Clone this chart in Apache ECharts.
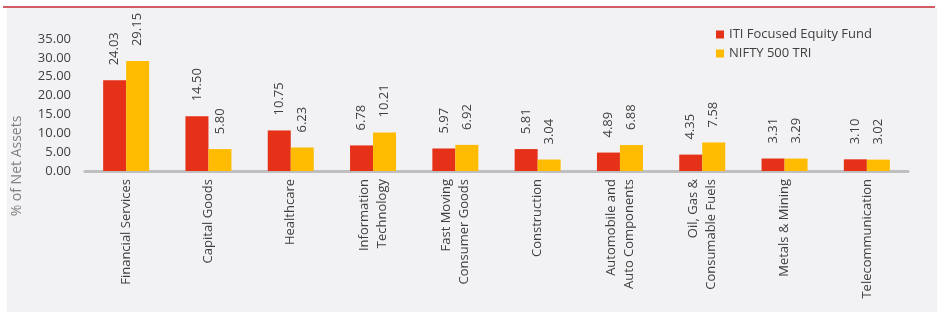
<!DOCTYPE html>
<html>
<head>
<meta charset="utf-8">
<script src="https://cdn.jsdelivr.net/npm/echarts@6/dist/echarts.min.js"></script>
<style>html,body{margin:0;padding:0;background:#fff;}#c{width:947px;height:322px;}</style>
</head>
<body>
<div id="c"></div>
<script>
var categories = ["Financial Services", "Capital Goods", "Healthcare", "Information\nTechnology", "Fast Moving\nConsumer Goods", "Construction", "Automobile and\nAuto Components", "Oil, Gas &\nConsumable Fuels", "Metals & Mining", "Telecommunication"];
var fundValues = [24.03, 14.50, 10.75, 6.78, 5.97, 5.81, 4.89, 4.35, 3.31, 3.10];
var indexValues = [29.15, 5.80, 6.23, 10.21, 6.92, 3.04, 6.88, 7.58, 3.29, 3.02];
var seriesNames = ["ITI Focused Equity Fund", "NIFTY 500 TRI"];
var yAxisTitle = "% of Net Assets";

var FONT = "Open Sans";
var chart = echarts.init(document.getElementById('c'), null, {renderer: 'canvas'});
var labelCfg = {
  show: true, position: 'top', rotate: 90, align: 'left', verticalAlign: 'middle',
  distance: 15, fontSize: 13, fontFamily: FONT, color: '#404040',
  formatter: function (p) { return p.value.toFixed(2); }
};
chart.setOption({
  animation: false,
  textStyle: {fontFamily: FONT},
  graphic: [
    {type: 'rect', z: -10, shape: {x: 7, y: 8, width: 930, height: 304}, style: {fill: '#F2F2F4'}},
    {type: 'line', z: -5, shape: {x1: 3, y1: 7, x2: 935, y2: 7}, style: {stroke: '#C0272D', lineWidth: 1.5}},
    {type: 'text', x: 17, y: 166, rotation: Math.PI / 2,
     style: {text: yAxisTitle, fill: '#7F7F7F', font: '14px "Open Sans"', textAlign: 'center', textVerticalAlign: 'middle'}}
  ],
  legend: {
    orient: 'vertical', left: 716, top: 28, itemWidth: 8, itemHeight: 8, itemGap: 6, padding: 0,
    icon: 'rect', data: seriesNames,
    textStyle: {fontSize: 13, fontFamily: FONT, color: '#404040'}
  },
  grid: {left: 85, right: 39, top: 39, bottom: 151, containLabel: false},
  xAxis: {
    type: 'category', data: categories,
    axisLine: {lineStyle: {color: '#BFBFBF', width: 3}},
    axisTick: {show: false},
    axisLabel: {interval: 0, rotate: 90, margin: 8, fontSize: 13, fontFamily: FONT, color: '#404040', lineHeight: 18}
  },
  yAxis: {
    type: 'value', min: 0, max: 35, interval: 5,
    axisLine: {show: false}, axisTick: {show: false}, splitLine: {show: false},
    axisLabel: {margin: 14, fontSize: 13, fontFamily: FONT, color: '#404040',
      formatter: function (v) { return v.toFixed(2); }}
  },
  series: [
    {name: seriesNames[0], type: 'bar', data: fundValues, barWidth: 23, barGap: '0%',
     itemStyle: {color: '#E53118'}, label: labelCfg},
    {name: seriesNames[1], type: 'bar', data: indexValues, barWidth: 23, barGap: '0%',
     itemStyle: {color: '#FFBB00'}, label: labelCfg}
  ]
});
</script>
</body>
</html>
